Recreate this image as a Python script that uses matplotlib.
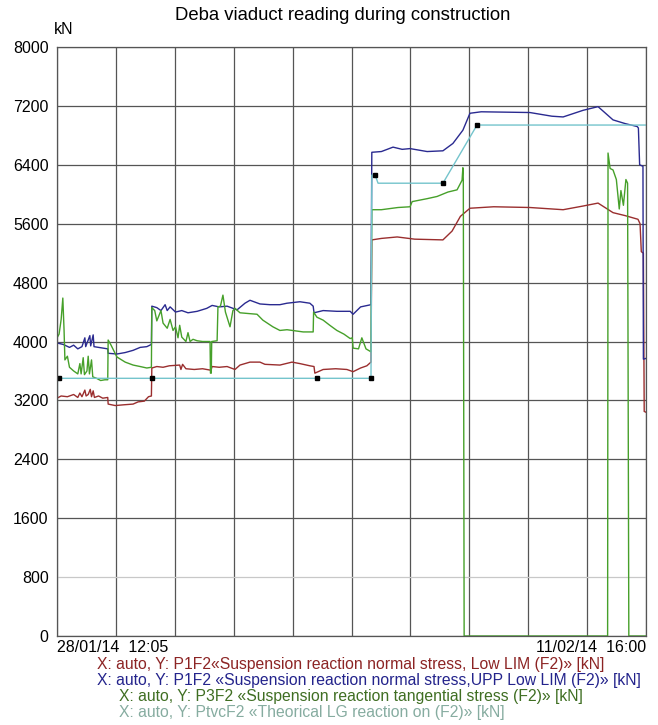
import matplotlib.pyplot as plt
import numpy as np

plt.rcParams['font.family'] = ['Liberation Sans', 'DejaVu Sans']

# time axis in days since 28/01/14 12:05 (ends 11/02/14 16:00)
SPAN = 14.163

# P1F2 low limit (red)
red_x = [0.00, 0.10, 0.25, 0.40, 0.50, 0.55, 0.60, 0.67, 0.70, 0.75, 0.80, 0.83,
         0.87, 0.90, 1.00, 1.10, 1.22, 1.23, 1.40, 1.60, 1.83, 1.95, 2.10, 2.20,
         2.27, 2.28, 2.40, 2.55, 2.70, 2.95, 2.98, 3.02, 3.10, 3.30, 3.50, 3.70,
         3.73, 3.90, 4.09, 4.28, 4.40, 4.64, 4.88, 5.00, 5.36, 5.65, 5.84, 6.08,
         6.18, 6.20, 6.40, 6.70, 6.97, 7.12, 7.30, 7.45, 7.55, 7.57, 7.80, 8.18,
         8.60, 9.28, 9.50, 9.70, 9.93, 10.50, 11.37, 12.17, 12.65, 13.01, 13.37,
         13.66, 13.97, 14.02, 14.05, 14.10, 14.12, 14.16]
red_y = [3230, 3260, 3250, 3280, 3240, 3300, 3250, 3340, 3260, 3280, 3350, 3250,
         3330, 3240, 3260, 3230, 3240, 3150, 3130, 3140, 3150, 3180, 3190, 3250,
         3260, 3640, 3660, 3650, 3670, 3680, 3620, 3690, 3630, 3620, 3630, 3610,
         3660, 3650, 3660, 3620, 3680, 3720, 3720, 3690, 3680, 3720, 3700, 3670,
         3660, 3570, 3620, 3630, 3620, 3590, 3640, 3670, 3720, 5380, 5400, 5420,
         5390, 5380, 5500, 5700, 5810, 5830, 5820, 5790, 5840, 5880, 5750,
         5710, 5660, 5600, 5220, 5200, 3050, 3040]

# P1F2 upper low limit (blue)
blue_x = [0.00, 0.15, 0.30, 0.40, 0.50, 0.60, 0.67, 0.69, 0.79, 0.81, 0.87, 0.89,
          1.00, 1.22, 1.23, 1.44, 1.64, 1.83, 2.00, 2.16, 2.27, 2.28, 2.40, 2.50,
          2.60, 2.65, 2.72, 2.85, 3.00, 3.15, 3.37, 3.60, 3.73, 3.90, 4.09, 4.33,
          4.52, 4.64, 4.88, 5.12, 5.36, 5.53, 5.84, 6.08, 6.16, 6.18, 6.40, 6.73,
          7.05, 7.12, 7.30, 7.55, 7.57, 7.80, 8.08, 8.30, 8.49, 8.90, 9.28, 9.52,
          9.76, 9.93, 10.20, 11.37, 11.90, 12.17, 12.65, 13.01, 13.37, 13.66,
          13.95, 13.98, 14.01, 14.09, 14.10, 14.16]
blue_y = [3980, 3960, 3920, 3950, 3900, 3930, 4050, 3930, 4080, 3940, 4090, 3930,
          3920, 3900, 3840, 3830, 3850, 3880, 3920, 3930, 3960, 4480, 4460, 4420,
          4500, 4420, 4470, 4400, 4420, 4390, 4410, 4450, 4490, 4470, 4480, 4430,
          4520, 4560, 4510, 4500, 4500, 4520, 4540, 4520, 4480, 4390, 4420, 4410,
          4410, 4370, 4470, 4500, 6570, 6580, 6640, 6610, 6620, 6580, 6590, 6690,
          6870, 7100, 7120, 7110, 7060, 7050, 7140, 7190, 7010, 6960,
          6920, 6900, 6400, 6380, 3760, 3770]

# P3F2 tangential (green)
green_x = [0.00, 0.05, 0.10, 0.14, 0.17, 0.19, 0.25, 0.30, 0.40, 0.50, 0.55, 0.58,
           0.63, 0.66, 0.72, 0.75, 0.78, 0.83, 0.86, 0.95, 1.05, 1.15, 1.22, 1.23,
           1.30, 1.44, 1.64, 1.83, 2.00, 2.16, 2.27, 2.28, 2.35, 2.40, 2.45, 2.50,
           2.55, 2.65, 2.72, 2.79, 2.85, 2.91, 2.95, 3.00, 3.10, 3.15, 3.20, 3.27,
           3.37, 3.50, 3.68, 3.69, 3.71, 3.72, 3.85, 3.87, 3.93, 3.99, 4.05, 4.16,
           4.23, 4.28, 4.40, 4.60, 4.81, 4.95, 5.19, 5.36, 5.53, 5.92, 6.16, 6.17,
           6.25, 6.40, 6.56, 6.73, 6.90, 7.05, 7.10, 7.12, 7.25, 7.33, 7.43, 7.55,
           7.57, 7.80, 8.20, 8.49, 8.54, 8.90, 9.14, 9.40, 9.62, 9.74, 9.76, 9.77,
           9.79, 13.24, 13.25, 13.30, 13.37, 13.45, 13.52, 13.56, 13.62, 13.68,
           13.72, 13.75, 14.16]
green_y = [4050, 4100, 4300, 4590, 4150, 3750, 3800, 3650, 3600, 3560, 3700, 3560,
           3780, 3550, 3600, 3800, 3560, 3750, 3520, 3500, 3470, 3480, 3480, 4020,
           3950, 3790, 3720, 3680, 3660, 3640, 3650, 4460, 4420, 4280, 4350, 4420,
           4250, 4180, 4300, 4150, 4200, 4050, 4220, 4060, 4000, 4120, 4000, 4030,
           4010, 4000, 4000, 3570, 3570, 4000, 4010, 4470, 4480, 4630, 4400, 4200,
           4420, 4450, 4390, 4380, 4370, 4290, 4200, 4150, 4160, 4130, 4130, 4400,
           4330, 4290, 4220, 4150, 4100, 4040, 4050, 3910, 3900, 4050, 3900, 3860,
           5790, 5790, 5820, 5830, 5900, 5940, 5970, 6030, 6060, 6190, 6360, 6200,
           0, 0, 6560, 6350, 6330, 6200, 5800, 6050, 5850, 6200,
           6150, 0, 0]

# PtvcF2 theoretical (teal)
teal_x = [0.00, 0.01, 0.05, 2.28, 6.25, 7.55, 7.57, 7.65, 7.72, 9.28, 10.10, 14.16]
teal_y = [0, 3500, 3500, 3500, 3500, 3500, 6260, 6260, 6150, 6150, 6940, 6940]
teal_marks = [2, 3, 4, 5, 7, 9, 10]

legend_lines = [
    ("X: auto, Y: P1F2\u00abSuspension reaction normal stress, Low LIM (F2)\u00bb [kN]", '#8c2424', 97),
    ("X: auto, Y: P1F2 \u00abSuspension reaction normal stress,UPP Low LIM (F2)\u00bb [kN]", '#24248c', 97),
    ("X: auto, Y: P3F2 \u00abSuspension reaction tangential stress (F2)\u00bb [kN]", '#3f6e22', 119),
    ("X: auto, Y: PtvcF2 \u00abTheorical LG reaction on (F2)\u00bb [kN]", '#86aca0', 119),
]

fig = plt.figure(figsize=(6.58, 7.25), dpi=100)
ax = fig.add_axes([57/658, 89/725, 589/658, 589/725])

ax.plot(red_x, red_y, color='#9a2e2e', lw=1.0)
ax.plot(blue_x, blue_y, color='#2a2a90', lw=1.0)
ax.plot(green_x, green_y, color='#46a02a', lw=1.0)
ax.plot(teal_x, teal_y, color='#74c4cc', lw=1.0)
ax.plot(np.array(teal_x)[teal_marks], np.array(teal_y)[teal_marks], 's',
        color='black', ms=3, lw=0)

ax.set_xlim(0, SPAN)
ax.set_ylim(0, 8000)
ax.set_xticks(np.linspace(0, SPAN, 11))
ax.set_xticklabels([])
ax.set_yticks(np.arange(0, 8001, 800))
ax.set_yticklabels([str(v) for v in range(0, 8001, 800)], fontsize=11.5)
ax.tick_params(length=0, pad=6)
ax.grid(True, color='#555555', lw=0.9)
for gl, v in zip(ax.get_ygridlines(), range(0, 8001, 800)):
    if v == 800:
        gl.set_color('#c8c8c8')
for s in ax.spines.values():
    s.set_color('#555555')
    s.set_linewidth(0.9)
ax.set_axisbelow(True)

fig.text(343/658, 1 - 15/725, "Deba viaduct reading during construction",
         ha='center', va='center', fontsize=13.3)
fig.text(54/658, 1 - 30/725, "kN", ha='left', va='center', fontsize=11.5)
fig.text(57/658, 1 - 648/725, "28/01/14  12:05", ha='left', va='center', fontsize=11.5)
fig.text(646/658, 1 - 648/725, "11/02/14  16:00", ha='right', va='center', fontsize=11.5)

for i, (txt, col, x0) in enumerate(legend_lines):
    fig.text(x0/658, 1 - (664 + 16*i)/725, txt, ha='left', va='center',
             fontsize=11.3, color=col)

fig.savefig('out.png', dpi=100)
